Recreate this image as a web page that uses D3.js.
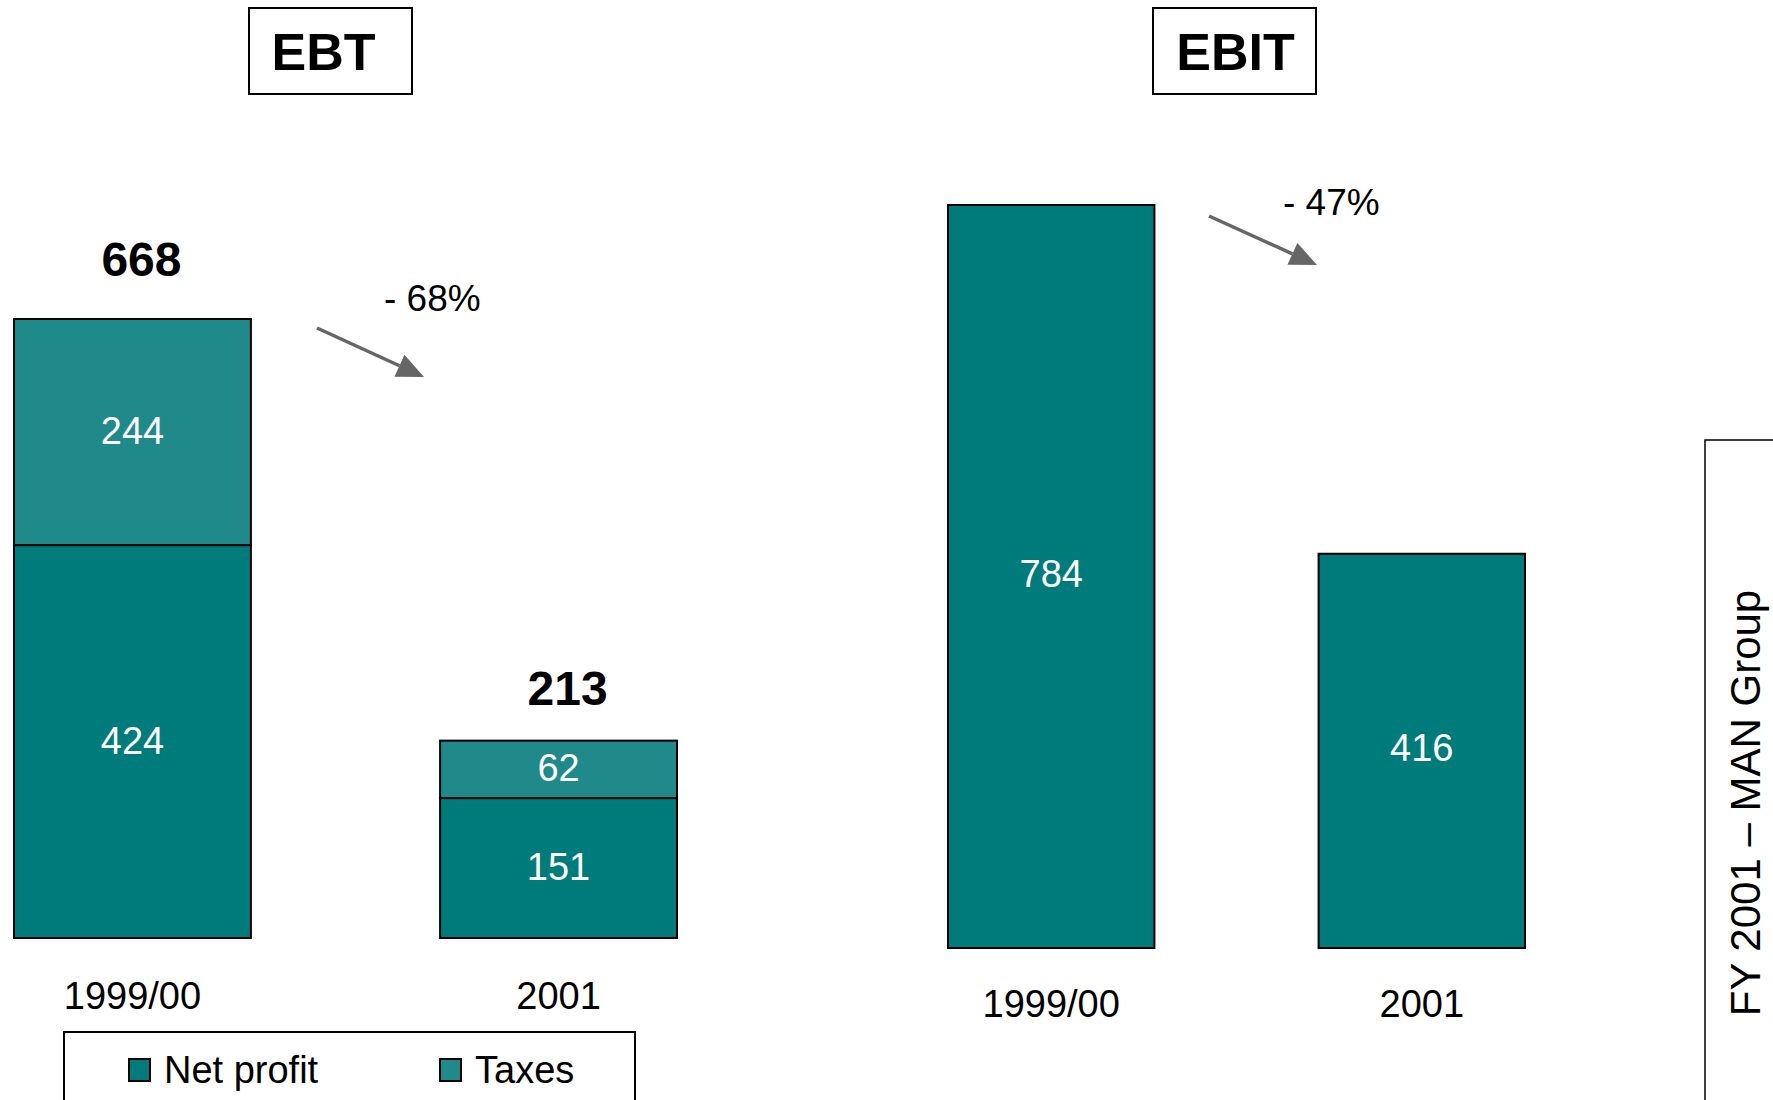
<!DOCTYPE html>
<html>
<head>
<meta charset="utf-8">
<script src="https://cdn.jsdelivr.net/npm/d3@7"></script>
<style>
  html, body { margin: 0; padding: 0; background: #fff; }
  svg { display: block; font-family: "Liberation Sans", Arial, sans-serif; }
</style>
</head>
<body>
<div class="container"></div>
<script>
// 数据
const categories = ["1999/00", "2001"];
const seriesNames = ["Net profit", "Taxes"];
const ebtNetProfit = [424, 151];
const ebtTaxes = [244, 62];
const ebitValues = [784, 416];
const changeLabels = ["- 68%", "- 47%"];

const colorNet = "#007b7b";
const colorTax = "#1f8a89";

let width = 1773;
let height = 1100;

let svg = d3.select(".container").append("svg")
    .attr("width", width)
    .attr("height", height);

/**
 * 标题框
 */
function drawTitle(text, x, y, w, h, dx) {
    let g = svg.append("g");
    g.append("rect")
        .attr("x", x).attr("y", y)
        .attr("width", w).attr("height", h)
        .attr("fill", "#fff")
        .attr("stroke", "#000")
        .attr("stroke-width", 2);
    g.append("text")
        .attr("x", x + w / 2 + dx)
        .attr("y", y + h / 2 + 19)
        .attr("text-anchor", "middle")
        .attr("font-size", 52)
        .attr("font-weight", "bold")
        .text(text);
}

/**
 * 箭头
 */
function drawArrow(x1, y1, x2, y2) {
    let dx = x2 - x1, dy = y2 - y1;
    let len = Math.sqrt(dx * dx + dy * dy);
    let ux = dx / len, uy = dy / len;
    let headLen = 27, headW = 12;
    let bx = x2 - ux * headLen, by = y2 - uy * headLen;
    svg.append("line")
        .attr("x1", x1).attr("y1", y1)
        .attr("x2", bx).attr("y2", by)
        .attr("stroke", "#666")
        .attr("stroke-width", 3.5);
    svg.append("polygon")
        .attr("points", [
            [x2, y2],
            [bx - uy * headW, by + ux * headW],
            [bx + uy * headW, by - ux * headW]
        ].map(p => p.join(",")).join(" "))
        .attr("fill", "#666");
}

/**
 * EBT 堆叠柱状图
 */
function drawEBT() {
    let x = d3.scaleBand()
        .domain(categories)
        .range([14, 677])
        .paddingInner(0.444);

    let totals = categories.map((c, i) => ebtNetProfit[i] + ebtTaxes[i]);

    let y = d3.scaleLinear()
        .domain([0, d3.max(totals)])
        .range([938, 319]);

    let rows = categories.map((c, i) => ({cat: c, net: ebtNetProfit[i], tax: ebtTaxes[i]}));
    let stack = d3.stack().keys(["net", "tax"])(rows);
    let colors = {net: colorNet, tax: colorTax};

    let g = svg.append("g");

    stack.forEach(layer => {
        g.selectAll(null)
            .data(layer)
            .enter()
            .append("rect")
            .attr("x", d => x(d.data.cat))
            .attr("y", d => y(d[1]))
            .attr("width", x.bandwidth())
            .attr("height", d => y(d[0]) - y(d[1]))
            .attr("fill", colors[layer.key])
            .attr("stroke", "#000")
            .attr("stroke-width", 2);

        g.selectAll(null)
            .data(layer)
            .enter()
            .append("text")
            .attr("x", d => x(d.data.cat) + x.bandwidth() / 2)
            .attr("y", d => (y(d[0]) + y(d[1])) / 2 + 12)
            .attr("text-anchor", "middle")
            .attr("font-size", 38)
            .attr("fill", "#fff")
            .text(d => d[1] - d[0]);
    });

    // 合计
    g.selectAll(".total")
        .data(categories)
        .enter()
        .append("text")
        .attr("class", "total")
        .attr("x", (d, i) => x(d) + x.bandwidth() / 2 + 9)
        .attr("y", (d, i) => y(totals[i]) - (i === 0 ? 43 : 36))
        .attr("text-anchor", "middle")
        .attr("font-size", 48)
        .attr("font-weight", "bold")
        .text((d, i) => totals[i]);

    // 类别标签
    let axis = d3.axisBottom(x).tickSize(0).tickPadding(44);
    g.append("g")
        .attr("transform", "translate(0,938)")
        .call(axis)
        .call(a => a.select(".domain").remove())
        .selectAll("text")
        .attr("font-size", 38)
        .attr("font-family", "Liberation Sans, Arial, sans-serif")
        .attr("fill", "#000");

    drawArrow(317, 328, 424, 377);
    svg.append("text")
        .attr("x", 384)
        .attr("y", 311)
        .attr("font-size", 37)
        .text(changeLabels[0]);

    // 图例
    svg.append("rect")
        .attr("x", 64).attr("y", 1032)
        .attr("width", 571).attr("height", 100)
        .attr("fill", "none")
        .attr("stroke", "#000")
        .attr("stroke-width", 2);

    let legendX = [129, 440];
    let legendColors = [colorNet, colorTax];
    let lg = svg.selectAll(".legend")
        .data(seriesNames)
        .enter()
        .append("g")
        .attr("class", "legend")
        .attr("transform", (d, i) => "translate(" + legendX[i] + ",1059)");
    lg.append("rect")
        .attr("width", 21).attr("height", 22)
        .attr("fill", (d, i) => legendColors[i])
        .attr("stroke", "#000")
        .attr("stroke-width", 2);
    lg.append("text")
        .attr("x", 35)
        .attr("y", 24)
        .attr("font-size", 38)
        .text(d => d);
}

/**
 * EBIT 柱状图
 */
function drawEBIT() {
    let x = d3.scaleBand()
        .domain(categories)
        .range([948, 1525])
        .paddingInner(0.443);

    let y = d3.scaleLinear()
        .domain([0, d3.max(ebitValues)])
        .range([948, 205]);

    let g = svg.append("g");

    g.selectAll("rect")
        .data(ebitValues)
        .enter()
        .append("rect")
        .attr("x", (d, i) => x(categories[i]))
        .attr("y", d => y(d))
        .attr("width", x.bandwidth())
        .attr("height", d => y(0) - y(d))
        .attr("fill", colorNet)
        .attr("stroke", "#000")
        .attr("stroke-width", 2);

    g.selectAll(".val")
        .data(ebitValues)
        .enter()
        .append("text")
        .attr("class", "val")
        .attr("x", (d, i) => x(categories[i]) + x.bandwidth() / 2)
        .attr("y", d => (y(0) + y(d)) / 2 + 10)
        .attr("text-anchor", "middle")
        .attr("font-size", 38)
        .attr("fill", "#fff")
        .text(d => d);

    let axis = d3.axisBottom(x).tickSize(0).tickPadding(42);
    g.append("g")
        .attr("transform", "translate(0,948)")
        .call(axis)
        .call(a => a.select(".domain").remove())
        .selectAll("text")
        .attr("font-size", 38)
        .attr("font-family", "Liberation Sans, Arial, sans-serif")
        .attr("fill", "#000");

    drawArrow(1209, 216, 1317, 265);
    svg.append("text")
        .attr("x", 1283)
        .attr("y", 215)
        .attr("font-size", 37)
        .text(changeLabels[1]);
}

/**
 * 侧边栏
 */
function drawSide() {
    svg.append("rect")
        .attr("x", 1705).attr("y", 440)
        .attr("width", 120).attr("height", 700)
        .attr("fill", "none")
        .attr("stroke", "#000")
        .attr("stroke-width", 1.5);
    svg.append("text")
        .attr("transform", "translate(1760,803) rotate(-90)")
        .attr("text-anchor", "middle")
        .attr("font-size", 42)
        .text("FY 2001 \u2013 MAN Group");
}

drawTitle("EBT", 249, 8, 163, 86, -7);
drawTitle("EBIT", 1153, 8, 163, 86, 1);
drawEBT();
drawEBIT();
drawSide();
</script>
</body>
</html>
